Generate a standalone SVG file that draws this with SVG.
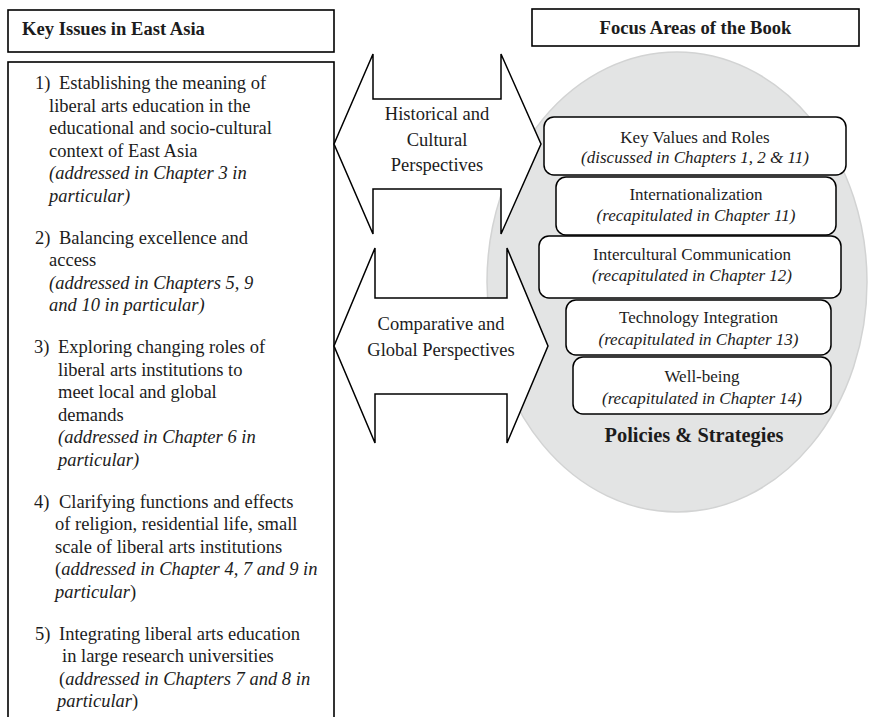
<svg xmlns="http://www.w3.org/2000/svg" width="870" height="717" viewBox="0 0 870 717">
<style>
  text { font-family: "Liberation Serif", "Times New Roman", serif; fill: #1c1c1c; }
  .hdr { font-weight: bold; font-size: 18.6px; }
  .body { font-size: 18.5px; }
  .it { font-style: italic; }
  .up { font-style: normal; }
  .box { fill: #ffffff; stroke: #000000; stroke-width: 1.6; }
  .rbox { fill: #ffffff; stroke: #000000; stroke-width: 1.5; }
  .rt { font-size: 17px; text-anchor: middle; }
  .arrow { fill: #ffffff; stroke: #000000; stroke-width: 1.5; stroke-linejoin: miter; }
  .at { font-size: 18.5px; text-anchor: middle; }
</style>
<rect x="0" y="0" width="870" height="717" fill="#ffffff"/>

<g id="policies-strategies">
  <ellipse cx="677" cy="282" rx="190" ry="230" fill="#e3e4e4" stroke="#d2d3d3" stroke-width="1.5"/>
  <text x="694" y="442" class="hdr" style="font-size:20.4px" text-anchor="middle">Policies &amp; Strategies</text>
</g>

<g id="key-issues-header">
  <rect x="8" y="10" width="326" height="42" class="box"/>
  <text x="22" y="35" class="hdr">Key Issues in East Asia</text>
</g>

<g id="key-issues-list">
  <rect x="8" y="62" width="326" height="700" class="box" stroke-width="2"/>
  <g class="body">
    <text x="35" y="89">1)</text>
    <text x="59" y="89">Establishing the meaning of</text>
    <text x="49" y="111.5">liberal arts education in the</text>
    <text x="49" y="134">educational and socio-cultural</text>
    <text x="49" y="156.5">context of East Asia</text>
    <text x="49" y="179" class="it">(addressed in Chapter 3 in</text>
    <text x="49" y="201.5" class="it">particular)</text>

    <text x="35" y="243.5">2)</text>
    <text x="59" y="243.5">Balancing excellence and</text>
    <text x="49" y="266">access</text>
    <text x="49" y="288.5" class="it">(addressed in Chapters 5, 9</text>
    <text x="49" y="311" class="it">and 10 in particular)</text>

    <text x="34" y="353">3)</text>
    <text x="58" y="353">Exploring changing roles of</text>
    <text x="58" y="375.5">liberal arts institutions to</text>
    <text x="58" y="398">meet local and global</text>
    <text x="58" y="420.5">demands</text>
    <text x="58" y="443" class="it">(addressed in Chapter 6 in</text>
    <text x="58" y="465.5" class="it">particular)</text>

    <text x="34" y="507.5">4)</text>
    <text x="59" y="507.5">Clarifying functions and effects</text>
    <text x="55" y="530">of religion, residential life, small</text>
    <text x="55" y="552.5">scale of liberal arts institutions</text>
    <text x="55" y="575">(<tspan class="it">addressed in Chapter 4, 7 and 9 in</tspan></text>
    <text x="55" y="597.5"><tspan class="it">particular</tspan>)</text>

    <text x="35" y="639.5">5)</text>
    <text x="59" y="639.5">Integrating liberal arts education</text>
    <text x="62" y="662">in large research universities</text>
    <text x="59" y="684.5">(<tspan class="it">addressed in Chapters 7 and 8 in</tspan></text>
    <text x="57" y="707"><tspan class="it">particular</tspan>)</text>
  </g>
</g>

<g id="focus-header">
  <rect x="532" y="9" width="327" height="37" class="box"/>
  <text x="695.5" y="34" class="hdr" text-anchor="middle">Focus Areas of the Book</text>
</g>

<g id="connectors">
  <path class="arrow" d="M334,144 L373,54 L373,99 L501,99 L501,54 L541,144 L501,234 L501,189 L373,189 L373,234 Z"/>
  <text x="437" y="120" class="at">Historical and</text>
  <text x="437" y="146" class="at">Cultural</text>
  <text x="437" y="171" class="at">Perspectives</text>
  <path class="arrow" d="M334,346 L375,248 L375,298 L507,298 L507,248 L548,346 L507,443 L507,394 L375,394 L375,443 Z"/>
  <text x="441" y="330" class="at">Comparative and</text>
  <text x="441" y="356" class="at">Global Perspectives</text>
</g>

<g id="key-values">
  <rect x="544" y="117" width="302" height="58" rx="10" class="rbox"/>
  <text x="695" y="143" class="rt">Key Values and Roles</text>
  <text x="695" y="163" class="rt it">(discussed in Chapters 1, 2 &amp; 11)</text>
</g>
<g id="internationalization">
  <rect x="556" y="177" width="280" height="58" rx="10" class="rbox"/>
  <text x="696" y="200" class="rt">Internationalization</text>
  <text x="696" y="221" class="rt it">(recapitulated in Chapter 11)</text>
</g>
<g id="intercultural-communication">
  <rect x="539" y="236" width="302" height="62" rx="10" class="rbox"/>
  <text x="692" y="260" class="rt">Intercultural Communication</text>
  <text x="692" y="281" class="rt it">(recapitulated in Chapter 12)</text>
</g>
<g id="technology-integration">
  <rect x="566" y="300" width="265" height="55" rx="10" class="rbox"/>
  <text x="698.5" y="323" class="rt">Technology Integration</text>
  <text x="698.5" y="345" class="rt it">(recapitulated in Chapter 13)</text>
</g>
<g id="well-being">
  <rect x="573" y="357" width="258" height="57" rx="10" class="rbox"/>
  <text x="702" y="382" class="rt">Well-being</text>
  <text x="702" y="404" class="rt it">(recapitulated in Chapter 14)</text>
</g>
</svg>
